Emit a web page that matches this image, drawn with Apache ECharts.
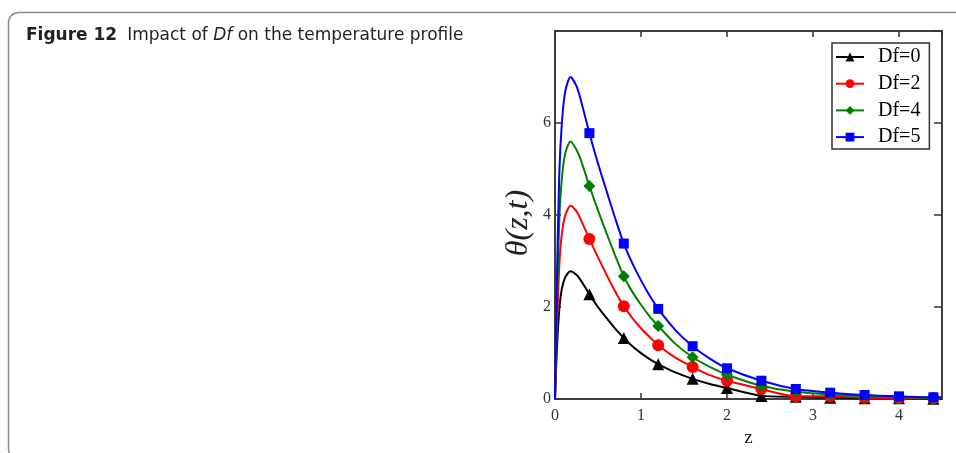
<!DOCTYPE html>
<html>
<head>
<meta charset="utf-8">
<script src="https://cdn.jsdelivr.net/npm/echarts@6/dist/echarts.min.js"></script>
<style>
html,body{margin:0;padding:0;background:#fff;}
#c{width:956px;height:453px;}
</style>
</head>
<body>
<div id="c"></div>
<script>
// ---- data ----
const zValues = [0, 0.02, 0.05, 0.08, 0.12, 0.18, 0.25, 0.3, 0.4, 0.5, 0.6, 0.7, 0.8, 0.9, 1.0, 1.1, 1.2, 1.4, 1.6, 1.8, 2.0, 2.4, 2.8, 3.2, 3.6, 4.0, 4.4, 4.5];
const df0 = [0, 1.0, 1.95, 2.4, 2.65, 2.78, 2.7, 2.58, 2.28, 2.0, 1.76, 1.53, 1.33, 1.15, 1.0, 0.87, 0.76, 0.58, 0.44, 0.33, 0.24, 0.07, 0.05, 0.03, 0.02, 0.02, 0.01, 0.01];
const df2 = [0, 1.4, 2.9, 3.6, 4.0, 4.2, 4.08, 3.9, 3.48, 3.08, 2.7, 2.34, 2.02, 1.76, 1.54, 1.35, 1.17, 0.9, 0.7, 0.52, 0.40, 0.22, 0.06, 0.06, 0.03, 0.02, 0.02, 0.02];
const df4 = [0, 1.9, 3.9, 4.8, 5.35, 5.6, 5.42, 5.2, 4.63, 4.1, 3.6, 3.12, 2.67, 2.33, 2.05, 1.8, 1.59, 1.2, 0.91, 0.7, 0.53, 0.29, 0.16, 0.1, 0.06, 0.04, 0.03, 0.03];
const df5 = [0, 2.4, 4.9, 6.0, 6.7, 7.0, 6.8, 6.5, 5.78, 5.12, 4.52, 3.93, 3.38, 2.95, 2.58, 2.25, 1.96, 1.5, 1.15, 0.88, 0.67, 0.40, 0.22, 0.14, 0.09, 0.06, 0.04, 0.04];
const markerZ = [0.4, 0.8, 1.2, 1.6, 2.0, 2.4, 2.8, 3.2, 3.6, 4.0, 4.4];
const seriesNames = ['Df=0', 'Df=2', 'Df=4', 'Df=5'];
const xTicks = [0, 1, 2, 3, 4];
const yTicks = [0, 2, 4, 6];

const seriesValues = [df0, df2, df4, df5];
const colors = ['#000000', '#ff0000', '#008000', '#0000ff'];
const symbols = ['triangle', 'circle', 'diamond', 'rect'];
const symbolSizes = [12, 12, 12, 10];

function buildData(vals) {
  return zValues.map((z, i) => {
    const isMarker = markerZ.some(m => Math.abs(m - z) < 1e-9);
    return isMarker ? { value: [z, vals[i]] } : { value: [z, vals[i]], symbol: 'none' };
  });
}

const chart = echarts.init(document.getElementById('c'), null, { renderer: 'canvas' });
const serif = 'Liberation Serif';
const sans = 'DejaVu Sans';

const option = {
  animation: false,
  backgroundColor: '#ffffff',
  title: {
    left: 21, top: 22,
    text: '{b|Figure 12}  {n|Impact of }{i|Df}{n| on the temperature profile}',
    textStyle: {
      fontWeight: 'normal',
      rich: {
        b: { fontFamily: sans, fontWeight: 'bold', fontSize: 17, color: '#231f20' },
        n: { fontFamily: sans, fontWeight: 'normal', fontSize: 17, color: '#231f20' },
        i: { fontFamily: sans, fontWeight: 'normal', fontStyle: 'italic', fontSize: 17, color: '#231f20' }
      }
    }
  },
  graphic: [{
    type: 'rect', z: -10, silent: true,
    shape: { x: 8.5, y: 12.5, width: 1000, height: 446, r: 10 },
    style: { fill: 'none', stroke: '#8a8a8a', lineWidth: 1.5 }
  }],
  legend: {
    orient: 'vertical', left: 832, top: 43,
    padding: [4, 9, 2, 3],
    itemWidth: 28, itemHeight: 11, itemGap: 6.7,
    backgroundColor: '#fff',
    borderColor: '#333', borderWidth: 1.5,
    data: seriesNames,
    textStyle: { fontFamily: serif, fontSize: 20, color: '#000', padding: [0, 0, 0, 9] }
  },
  grid: { left: 555, top: 31, right: 14, bottom: 52, show: true, borderColor: '#333', borderWidth: 1.5 },
  xAxis: [{
    type: 'value', min: 0, max: 4.5, interval: 1, position: 'bottom',
    name: 'z', nameLocation: 'middle', nameGap: 28,
    nameTextStyle: { fontFamily: serif, fontSize: 19, color: '#222' },
    axisLine: { show: true, onZero: false, lineStyle: { color: '#333', width: 1.5 } },
    axisTick: { show: true, inside: true, length: 6, lineStyle: { color: '#333', width: 1.5 } },
    axisLabel: { fontFamily: serif, fontSize: 16, color: '#333', margin: 9, showMaxLabel: false,
      formatter: v => (xTicks.indexOf(v) >= 0 ? String(v) : '') },
    splitLine: { show: false }
  }, {
    type: 'value', min: 0, max: 4.5, interval: 1, position: 'top',
    axisLine: { show: true, onZero: false, lineStyle: { color: '#333', width: 1.5 } },
    axisTick: { show: true, inside: true, length: 6, lineStyle: { color: '#333', width: 1.5 } },
    axisLabel: { show: false }, splitLine: { show: false }
  }],
  yAxis: [{
    type: 'value', min: 0, max: 8, interval: 2, position: 'left',
    name: 'θ(z,t)', nameLocation: 'middle', nameGap: 20, nameRotate: 90,
    nameTextStyle: { fontFamily: serif, fontStyle: 'italic', fontSize: 32, color: '#222', padding: [0, 16, 0, 0] },
    axisLine: { show: true, onZero: false, lineStyle: { color: '#333', width: 1.5 } },
    axisTick: { show: true, inside: true, length: 6, lineStyle: { color: '#333', width: 1.5 } },
    axisLabel: { fontFamily: serif, fontSize: 16, color: '#333', margin: 4, showMaxLabel: false,
      formatter: v => (yTicks.indexOf(v) >= 0 ? String(v) : '') },
    splitLine: { show: false }
  }, {
    type: 'value', min: 0, max: 8, interval: 2, position: 'right',
    axisLine: { show: true, onZero: false, lineStyle: { color: '#333', width: 1.5 } },
    axisTick: { show: true, inside: true, length: 8, lineStyle: { color: '#333', width: 1.5 } },
    axisLabel: { show: false }, splitLine: { show: false }
  }],
  series: seriesNames.map((name, k) => ({
    name: name, type: 'line', xAxisIndex: 0, yAxisIndex: 0,
    data: buildData(seriesValues[k]),
    smooth: 0.25,
    symbol: symbols[k], symbolSize: symbolSizes[k], showSymbol: true,
    color: colors[k],
    lineStyle: { color: colors[k], width: 2 },
    itemStyle: { color: colors[k] },
    z: 2 + k
  }))
};
chart.setOption(option);
</script>
</body>
</html>
